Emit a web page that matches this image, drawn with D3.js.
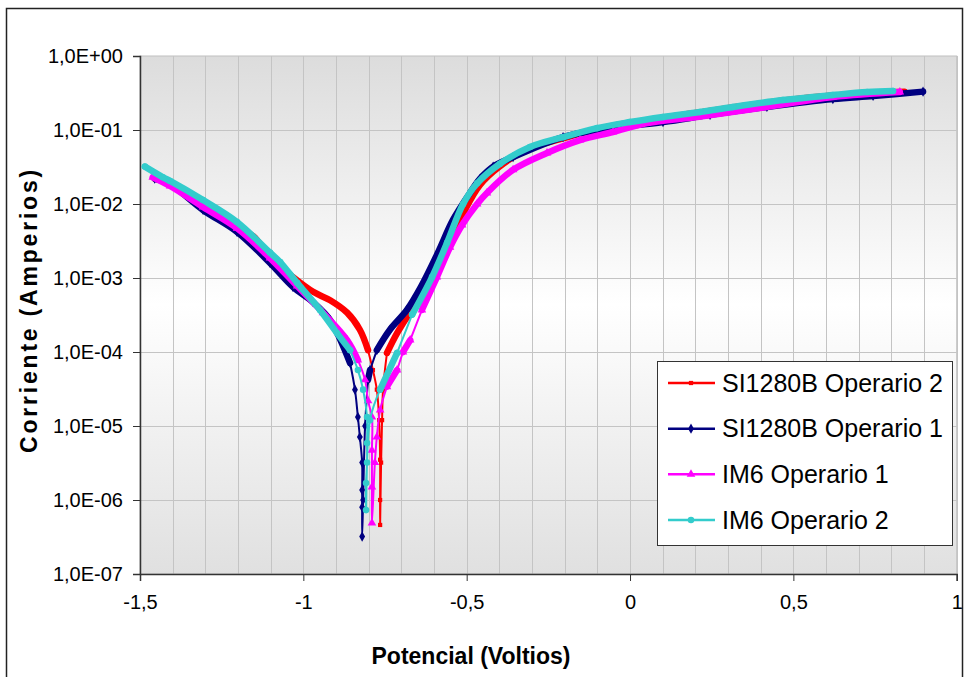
<!DOCTYPE html>
<meta charset="utf-8">
<style>
body{margin:0;background:#fff;}
svg{display:block;font-family:"Liberation Sans",Arial,sans-serif;}
.tick-label{font-size:20px;fill:#000;}
.axis-title{font-size:23px;font-weight:bold;fill:#000;}
.legend text{font-size:25px;fill:#000;}
</style>
<body>
<script src="https://d3js.org/d3.v7.min.js"></script>
<script>
// tick labels (Spanish decimal comma)
var xTicks = [-1.5, -1, -0.5, 0, 0.5, 1];
var xTickLabels = ["-1,5", "-1", "-0,5", "0", "0,5", "1"];
var yTicks = [1, 1e-1, 1e-2, 1e-3, 1e-4, 1e-5, 1e-6, 1e-7];
var yTickLabels = ["1,0E+00", "1,0E-01", "1,0E-02", "1,0E-03", "1,0E-04", "1,0E-05", "1,0E-06", "1,0E-07"];

var seriesNames = ["SI1280B Operario 2", "SI1280B Operario 1", "IM6 Operario 1", "IM6 Operario 2"];

// [potencial V, corriente A]
var si1280bOp2 = [[-1.455,2.2e-2],[-1.408,1.9e-2],[-1.307,8.8e-3],[-1.203,4.6e-3],[-1.154,3.7e-3],[-1.102,1.9e-3],
  [-1.032,1.03e-3],[-0.970,6.5e-4],[-0.918,5.0e-4],[-0.866,3.4e-4],[-0.827,2.0e-4],[-0.802,1.06e-4],[-0.787,5.7e-5],
  [-0.775,3.1e-5],[-0.768,1.2e-5],[-0.765,3.5e-6],[-0.765,1.0e-6],[-0.765,4.6e-7],[-0.762,3.2e-6],[-0.759,1.2e-5],
  [-0.756,3.1e-5],[-0.744,9.7e-5],[-0.713,1.8e-4],[-0.673,3.4e-4],[-0.643,5.0e-4],[-0.600,1.03e-3],[-0.550,3.0e-3],
  [-0.505,8.3e-3],[-0.460,1.8e-2],[-0.400,3.2e-2],[-0.310,5.6e-2],[-0.200,7.8e-2],[-0.100,1.03e-1],[0.0,1.25e-1],
  [0.210,1.72e-1],[0.470,2.5e-1],[0.620,2.93e-1],[0.840,3.3e-1]];

var si1280bOp1 = [[-1.455,2.2e-2],[-1.408,1.85e-2],[-1.307,8.3e-3],[-1.203,4.2e-3],[-1.102,1.6e-3],[-1.032,7.6e-4],
  [-0.970,4.7e-4],[-0.918,2.7e-4],[-0.857,7.1e-5],[-0.842,3.1e-5],[-0.833,1.32e-5],[-0.827,7.1e-6],[-0.820,3.2e-6],
  [-0.820,1.36e-6],[-0.820,8.0e-7],[-0.820,3.2e-7],[-0.817,1.0e-6],[-0.811,1.0e-5],[-0.802,4.2e-5],[-0.796,5.7e-5],
  [-0.775,1.06e-4],[-0.735,2.0e-4],[-0.683,3.7e-4],[-0.640,7.6e-4],[-0.588,2.2e-3],[-0.542,6.1e-3],[-0.490,1.41e-2],
  [-0.459,2.2e-2],[-0.419,3.2e-2],[-0.358,4.3e-2],[-0.205,8.0e-2],[-0.101,1.0e-1],[0.101,1.28e-1],[0.245,1.6e-1],
  [0.419,2.05e-1],[0.621,2.62e-1],[0.744,2.88e-1],[0.897,3.3e-1]];

var im6Op1 = [[-1.461,2.3e-2],[-1.408,1.75e-2],[-1.307,9.1e-3],[-1.203,4.7e-3],[-1.102,1.86e-3],[-1.019,7.8e-4],
  [-0.940,3.4e-4],[-0.866,1.45e-4],[-0.833,7.8e-5],[-0.811,4.2e-5],[-0.802,2.2e-5],[-0.790,1.32e-5],[-0.790,4.7e-6],
  [-0.790,1.5e-6],[-0.790,4.9e-7],[-0.781,3.2e-6],[-0.775,7.1e-6],[-0.765,1.64e-5],[-0.744,3.4e-5],[-0.713,5.7e-5],
  [-0.695,1.0e-4],[-0.673,1.45e-4],[-0.637,3.7e-4],[-0.591,1.03e-3],[-0.551,2.6e-3],[-0.514,5.2e-3],[-0.468,1.0e-2],
  [-0.438,1.41e-2],[-0.358,2.9e-2],[-0.254,4.9e-2],[-0.153,7.3e-2],[-0.052,9.4e-2],[0.052,1.24e-1],[0.205,1.5e-1],
  [0.398,1.98e-1],[0.621,2.79e-1],[0.826,3.26e-1]];

var im6Op2 = [[-1.485,3.2e-2],[-1.430,2.3e-2],[-1.408,2.05e-2],[-1.307,1.13e-2],[-1.203,5.7e-3],[-1.102,2.2e-3],
  [-1.071,1.64e-3],[-1.019,8.6e-4],[-0.949,3.7e-4],[-0.897,1.8e-4],[-0.857,1.06e-4],[-0.833,5.7e-5],[-0.817,3.1e-5],
  [-0.805,1.32e-5],[-0.805,5.9e-6],[-0.805,3.2e-6],[-0.808,1.7e-6],[-0.808,7.3e-7],[-0.796,1.2e-5],[-0.765,3.1e-5],
  [-0.713,9.7e-5],[-0.667,3.2e-4],[-0.606,1.03e-3],[-0.560,3.0e-3],[-0.511,1.0e-2],[-0.468,1.9e-2],[-0.398,3.5e-2],
  [-0.306,5.9e-2],[-0.205,8.0e-2],[-0.101,1.06e-1],[0.0,1.28e-1],[0.101,1.5e-1],[0.214,1.75e-1],[0.315,2.05e-1],
  [0.468,2.54e-1],[0.621,2.97e-1],[0.726,3.26e-1],[0.805,3.37e-1]];

var series = [
  {name: seriesNames[0], data: si1280bOp2, color: "#ff0000", symbol: d3.symbolSquare, size: 18},
  {name: seriesNames[1], data: si1280bOp1, color: "#000080", symbol: d3.symbolDiamond, size: 30},
  {name: seriesNames[2], data: im6Op1, color: "#ff00ff", symbol: d3.symbolTriangle, size: 32},
  {name: seriesNames[3], data: im6Op2, color: "#33cccc", symbol: d3.symbolCircle, size: 34}
];

var W = 964, H = 677;
var plot = {left: 140, top: 56, right: 956.7, bottom: 574};

var svg = d3.select("body").append("svg").attr("width", W).attr("height", H);

// outer chart border
svg.append("rect").attr("x", 6.5).attr("y", 8.5).attr("width", 956).attr("height", 680)
  .attr("fill", "#fff").attr("stroke", "#222").attr("stroke-width", 1.5);

var grad = svg.append("defs").append("linearGradient").attr("id", "bg")
  .attr("x1", 0).attr("y1", 0).attr("x2", 0).attr("y2", 1);
grad.append("stop").attr("offset", "0").attr("stop-color", "#dcdcdc");
grad.append("stop").attr("offset", "0.48").attr("stop-color", "#ffffff");
grad.append("stop").attr("offset", "1").attr("stop-color", "#e0e0e0");

var x = d3.scaleLinear().domain([-1.5, 1]).range([plot.left, plot.right]);
var y = d3.scaleLog().domain([1e-7, 1]).range([plot.bottom, plot.top]);

svg.append("rect").attr("x", plot.left).attr("y", plot.top)
  .attr("width", plot.right - plot.left).attr("height", plot.bottom - plot.top)
  .attr("fill", "url(#bg)").attr("stroke", "#c0c0c0");

// vertical grid every 0.1 V
svg.append("g").selectAll("line").data(d3.range(-14, 11).map(function(i){ return i / 10; }))
  .join("line")
  .attr("x1", function(d){ return Math.round(x(d)) + 0.5; }).attr("x2", function(d){ return Math.round(x(d)) + 0.5; })
  .attr("y1", plot.top).attr("y2", plot.bottom)
  .attr("stroke", "#c4c4c4").attr("stroke-width", 1);

// horizontal grid at decades
svg.append("g").selectAll("line").data(yTicks.slice(1, -1))
  .join("line")
  .attr("x1", plot.left).attr("x2", plot.right)
  .attr("y1", function(d){ return Math.round(y(d)) + 0.5; }).attr("y2", function(d){ return Math.round(y(d)) + 0.5; })
  .attr("stroke", "#c4c4c4").attr("stroke-width", 1);

// axes
var yAxis = svg.append("g").attr("transform", "translate(" + plot.left + ",0)")
  .call(d3.axisLeft(y).tickValues(yTicks).tickSize(7).tickPadding(10)
    .tickFormat(function(d, i){ return yTickLabels[i]; }));
var xAxis = svg.append("g").attr("transform", "translate(0," + plot.bottom + ")")
  .call(d3.axisBottom(x).tickValues(xTicks).tickSize(7).tickPadding(14)
    .tickFormat(function(d, i){ return xTickLabels[i]; }));
[xAxis, yAxis].forEach(function(a){
  a.select(".domain").attr("stroke", "#333").attr("stroke-width", 1.5);
  a.selectAll(".tick line").attr("stroke", "#333");
  a.selectAll(".tick text").attr("class", "tick-label").attr("font-family", null).attr("font-size", null);
});

// series, drawn in legend order so IM6 Operario 2 ends on top.
// dense stretches of the curve read as a thick band, steep sparse tips as a thin line
var curve = d3.line().curve(d3.curveCatmullRom.alpha(0.5));
series.forEach(function(s){
  var pts = s.data.map(function(d){ return [x(d[0]), y(d[1])]; });
  var g = svg.append("g");
  var runs = [], cur = null;
  for (var i = 1; i < pts.length; i++) {
    var dx = Math.abs(pts[i][0] - pts[i-1][0]), dy = Math.abs(pts[i][1] - pts[i-1][1]);
    var sparse = dy > 2.5 * dx && dy > 12;
    if (!cur || cur.sparse !== sparse) {
      cur = {sparse: sparse, pts: [pts[i-1]]};
      runs.push(cur);
    }
    cur.pts.push(pts[i]);
  }
  runs.forEach(function(r){
    g.append("path").attr("d", curve(r.pts))
      .attr("fill", "none").attr("stroke", s.color)
      .attr("stroke-width", r.sparse ? 2 : 6.5)
      .attr("stroke-linecap", "round").attr("stroke-linejoin", "round");
  });
  g.selectAll(".mk").data(pts).join("path").attr("class", "mk")
    .attr("transform", function(d){ return "translate(" + d[0] + "," + d[1] + ")"; })
    .attr("d", d3.symbol(s.symbol, s.size))
    .attr("fill", s.color);
});

// axis titles
svg.append("text").attr("class", "axis-title")
  .attr("x", 471).attr("y", 664).attr("text-anchor", "middle")
  .text("Potencial (Voltios)");
svg.append("text").attr("class", "axis-title")
  .attr("transform", "translate(37,310) rotate(-90)")
  .attr("text-anchor", "middle").attr("letter-spacing", "2.8px")
  .text("Corriente (Amperios)");

// legend
var legend = svg.append("g").attr("class", "legend");
legend.append("rect").attr("x", 657.5).attr("y", 361.5).attr("width", 295).attr("height", 184)
  .attr("fill", "#fff").attr("stroke", "#333").attr("stroke-width", 1);
var rowY = d3.scalePoint().domain(seriesNames).range([383, 520]);
series.forEach(function(s){
  var ry = rowY(s.name);
  legend.append("line").attr("x1", 668).attr("x2", 715).attr("y1", ry).attr("y2", ry)
    .attr("stroke", s.color).attr("stroke-width", 2.5);
  legend.append("path").attr("transform", "translate(691," + ry + ")")
    .attr("d", d3.symbol(s.symbol, s.size)).attr("fill", s.color);
  legend.append("text").attr("x", 722).attr("y", ry).attr("dy", "0.35em").text(s.name);
});
</script>
</body>
